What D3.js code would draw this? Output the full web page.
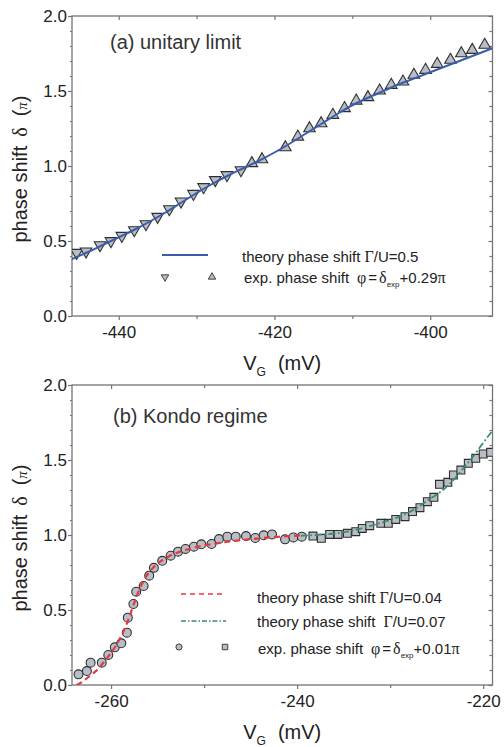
<!DOCTYPE html>
<html>
<head>
<meta charset="utf-8">
<script src="https://cdn.jsdelivr.net/npm/d3@7"></script>
<style>
  body { margin: 0; background: #fff; }
  svg { display: block; font-family: 'Liberation Sans', Arial, sans-serif; }
  .greek { font-family: 'Liberation Serif', 'DejaVu Serif', serif; }
</style>
</head>
<body>
<svg id="chart" width="504" height="747"></svg>
<script>
// ---- panel (a) unitary limit ----
const aXTicks = [-440, -420, -400];
const aXMinor = [-430, -410];
// theory phase shift, Gamma/U = 0.5  [V_G (mV), delta (pi)]
const aTheory = [
  [-446, 0.38], [-444, 0.425], [-442, 0.475], [-440, 0.525], [-438, 0.575],
  [-436, 0.63], [-434, 0.69], [-432, 0.755], [-430, 0.82], [-428, 0.88],
  [-426, 0.935], [-424, 0.985], [-422, 1.035], [-420, 1.09], [-418, 1.15],
  [-416, 1.215], [-414, 1.28], [-412, 1.345], [-410, 1.405], [-408, 1.455],
  [-406, 1.50], [-404, 1.545], [-402, 1.585], [-400, 1.625], [-398, 1.665],
  [-396, 1.705], [-394, 1.745], [-392, 1.785]
];
// experiment, down triangles
const aDown = [
  [-445.4, 0.422], [-444.2, 0.431], [-442.4, 0.473], [-441.0, 0.50],
  [-439.6, 0.535], [-438.0, 0.573], [-436.5, 0.613], [-435.0, 0.662],
  [-433.5, 0.713], [-432.0, 0.764], [-430.4, 0.815], [-429.1, 0.86],
  [-427.6, 0.907], [-426.1, 0.94], [-424.3, 0.973]
];
// experiment, up triangles
const aUp = [
  [-422.9, 1.018], [-421.6, 1.044], [-418.6, 1.124], [-417.0, 1.195],
  [-415.5, 1.251], [-414.0, 1.284], [-412.5, 1.34], [-411.0, 1.385],
  [-409.5, 1.435], [-408.0, 1.458], [-406.5, 1.502], [-405.0, 1.54],
  [-403.5, 1.562], [-402.1, 1.607], [-400.6, 1.64], [-399.1, 1.68],
  [-397.4, 1.707], [-396.0, 1.751], [-394.6, 1.773], [-393.0, 1.807]
];

// ---- panel (b) Kondo regime ----
const bXTicks = [-260, -240, -220];
const bXMinor = [-250, -230];
// theory, Gamma/U = 0.04
const bTheoryA = [
  [-263.7, 0.0], [-263, 0.025], [-262.5, 0.05], [-262, 0.075], [-261.5, 0.10],
  [-261, 0.135], [-260.5, 0.175], [-260, 0.215], [-259.5, 0.26], [-259, 0.315],
  [-258.5, 0.38], [-258, 0.46], [-257.5, 0.55], [-257, 0.63], [-256.5, 0.695],
  [-256, 0.745], [-255.5, 0.78], [-255, 0.81], [-254, 0.85], [-253, 0.88],
  [-252, 0.9], [-251, 0.917], [-250, 0.93], [-248, 0.95], [-246, 0.966],
  [-244, 0.978], [-242, 0.988], [-240, 0.996], [-239.5, 0.998]
];
// theory, Gamma/U = 0.07
const bTheoryB = [
  [-239.6, 0.995], [-238, 1.0], [-236, 1.01], [-234, 1.03], [-232, 1.063],
  [-230, 1.10], [-228, 1.15], [-227, 1.185], [-226, 1.23], [-225, 1.27],
  [-224, 1.318], [-223, 1.38], [-222, 1.455], [-221, 1.53], [-220, 1.615],
  [-219, 1.695]
];
// experiment, circles
const bCircles = [
  [-263.5, 0.071], [-262.6, 0.093], [-262.2, 0.149], [-261.0, 0.149],
  [-260.3, 0.20], [-259.6, 0.251], [-258.9, 0.278], [-258.3, 0.349],
  [-258.2, 0.449], [-257.6, 0.54], [-257.3, 0.622], [-256.5, 0.66],
  [-255.9, 0.729], [-255.4, 0.781], [-254.5, 0.828], [-253.6, 0.862],
  [-252.8, 0.889], [-252.0, 0.907], [-251.1, 0.922], [-250.3, 0.938],
  [-249.2, 0.94], [-248.4, 0.973], [-247.5, 0.989], [-246.6, 0.989],
  [-245.5, 0.993], [-244.5, 0.98], [-243.6, 0.998], [-242.7, 1.004],
  [-241.3, 0.971], [-240.4, 0.984], [-239.5, 0.989]
];
// experiment, squares
const bSquares = [
  [-238.3, 0.993], [-237.4, 0.978], [-236.5, 1.004], [-235.6, 1.004],
  [-234.6, 1.011], [-233.7, 1.022], [-233.0, 1.044], [-232.2, 1.062],
  [-231.0, 1.078], [-230.2, 1.078], [-229.4, 1.104], [-228.4, 1.122],
  [-227.6, 1.156], [-226.8, 1.182], [-226.0, 1.222], [-225.3, 1.251],
  [-224.7, 1.338], [-223.8, 1.351], [-223.2, 1.40], [-222.4, 1.433],
  [-221.6, 1.478], [-220.8, 1.511], [-220.0, 1.54], [-219.2, 1.551]
];

const yTicks = [0, 0.5, 1.0, 1.5, 2.0];
const yMinor = [0.1, 0.2, 0.3, 0.4, 0.6, 0.7, 0.8, 0.9, 1.1, 1.2, 1.3, 1.4, 1.6, 1.7, 1.8, 1.9];

const margin = { left: 72, right: 11.5 };
const plotW = 504 - margin.left - margin.right;
const plotH = 300;
const axisColor = '#747474';
const markFill = '#b9bec6';
const markStroke = '#2e2e2e';

const svg = d3.select('#chart');

function drawPanel(cfg) {
  const g = svg.append('g').attr('transform', `translate(${margin.left},${cfg.top})`);

  const x = d3.scaleLinear().domain(cfg.xDomain).range([0, plotW]);
  const y = d3.scaleLinear().domain([0, 2]).range([plotH, 0]);

  g.append('clipPath')
    .attr('id', cfg.id + '-clip')
    .append('rect')
    .attr('width', plotW)
    .attr('height', plotH);

  function styleAxis(sel) {
    sel.attr('font-family', null).attr('font-size', 17);
    sel.select('.domain').remove();
    sel.selectAll('.tick line').attr('stroke', axisColor).attr('stroke-width', 1.2);
    sel.selectAll('.tick text').attr('fill', '#222');
  }

  // bottom axis
  g.append('g')
    .attr('transform', `translate(0,${plotH})`)
    .call(d3.axisBottom(x).tickValues(cfg.xTicks).tickSize(4).tickPadding(6).tickFormat((d) => String(d)))
    .call(styleAxis);
  g.append('g')
    .attr('transform', `translate(0,${plotH})`)
    .call(d3.axisBottom(x).tickValues(cfg.xMinor).tickSize(3).tickFormat(''))
    .call(styleAxis);
  // top axis, ticks inward
  g.append('g')
    .call(d3.axisTop(x).tickValues(cfg.xTicks).tickSize(-4).tickFormat(''))
    .call(styleAxis);
  g.append('g')
    .call(d3.axisTop(x).tickValues(cfg.xMinor).tickSize(-3).tickFormat(''))
    .call(styleAxis);
  // left axis
  g.append('g')
    .call(d3.axisLeft(y).tickValues(yTicks).tickSize(4).tickPadding(1).tickFormat(d3.format('.1f')))
    .call(styleAxis);
  g.append('g')
    .call(d3.axisLeft(y).tickValues(yMinor).tickSize(2).tickFormat(''))
    .call(styleAxis);
  // right axis, ticks inward
  g.append('g')
    .attr('transform', `translate(${plotW},0)`)
    .call(d3.axisRight(y).tickValues(yTicks).tickSize(-4).tickFormat(''))
    .call(styleAxis);
  g.append('g')
    .attr('transform', `translate(${plotW},0)`)
    .call(d3.axisRight(y).tickValues(yMinor).tickSize(-3).tickFormat(''))
    .call(styleAxis);

  g.append('rect')
    .attr('width', plotW)
    .attr('height', plotH)
    .attr('fill', 'none')
    .attr('stroke', axisColor)
    .attr('stroke-width', 1.3);

  const line = d3
    .line()
    .x((d) => x(d[0]))
    .y((d) => y(d[1]))
    .curve(d3.curveMonotoneX);

  const plot = g.append('g').attr('clip-path', `url(#${cfg.id}-clip)`);

  cfg.marks.forEach((m) => {
    plot
      .selectAll(null)
      .data(m.data)
      .enter()
      .append('path')
      .attr('d', d3.symbol().type(m.type).size(m.size))
      .attr('transform', (d) => `translate(${x(d[0])},${y(d[1])}) rotate(${m.rotate || 0})`)
      .attr('fill', markFill)
      .attr('stroke', markStroke)
      .attr('stroke-width', 1.1);
  });

  // theory curves drawn over the data points
  cfg.lines.forEach((l) => {
    plot
      .append('path')
      .datum(l.data)
      .attr('fill', 'none')
      .attr('stroke', l.color)
      .attr('stroke-width', l.width)
      .attr('stroke-dasharray', l.dash || null)
      .attr('d', line);
  });

  // panel title
  g.append('text')
    .attr('x', cfg.titlePos[0])
    .attr('y', cfg.titlePos[1])
    .attr('font-size', 20)
    .attr('fill', '#333')
    .text(cfg.title);

  // y axis title
  const yl = g
    .append('text')
    .attr('transform', 'rotate(-90)')
    .attr('x', -plotH / 2 - 3)
    .attr('y', -45)
    .attr('text-anchor', 'middle')
    .attr('font-size', 20)
    .attr('fill', '#222');
  yl.append('tspan').text('phase shift');
  yl.append('tspan').attr('class', 'greek').attr('dx', 9).text('δ');
  yl.append('tspan').attr('dx', 11).text('(');
  yl.append('tspan').attr('class', 'greek').attr('font-style', 'italic').attr('font-size', 15).text('π');
  yl.append('tspan').text(')');

  // x axis title
  const xl = g
    .append('text')
    .attr('x', plotW / 2)
    .attr('y', plotH + 54)
    .attr('text-anchor', 'middle')
    .attr('font-size', 20)
    .attr('fill', '#222');
  xl.append('tspan').text('V');
  xl.append('tspan').attr('font-size', 12).attr('dy', 6).text('G');
  xl.append('tspan').attr('dy', -6).attr('dx', 12).text('(mV)');

  return g;
}

function legendText(g, xPos, yPos, parts) {
  const t = g
    .append('text')
    .attr('x', xPos)
    .attr('y', yPos)
    .attr('font-size', 15)
    .attr('fill', '#222');
  parts.forEach((p) => {
    const s = t.append('tspan').text(p.t);
    if (p.greek) s.attr('class', 'greek').attr('font-size', 16);
    if (p.dx) s.attr('dx', p.dx);
    if (p.dy) s.attr('dy', p.dy);
    if (p.size) s.attr('font-size', p.size);
  });
}

function legendMark(g, type, size, xPos, yPos, rotate) {
  g.append('path')
    .attr('d', d3.symbol().type(type).size(size))
    .attr('transform', `translate(${xPos},${yPos}) rotate(${rotate || 0})`)
    .attr('fill', markFill)
    .attr('stroke', markStroke)
    .attr('stroke-width', 0.9);
}

// ---- panel (a) ----
const ga = drawPanel({
  id: 'pa',
  top: 16,
  xDomain: [-446, -392],
  xTicks: aXTicks,
  xMinor: aXMinor,
  title: '(a) unitary limit',
  titlePos: [38, 33],
  lines: [{ data: aTheory, color: '#3a5daa', width: 2 }],
  marks: [
    { data: aDown, type: d3.symbolTriangle, size: 58, rotate: 180 },
    { data: aUp, type: d3.symbolTriangle, size: 58 },
  ],
});

ga.append('line')
  .attr('x1', 90).attr('x2', 136)
  .attr('y1', 239).attr('y2', 239)
  .attr('stroke', '#3a5daa').attr('stroke-width', 2);
legendText(ga, 170, 246, [
  { t: 'theory phase shift ' },
  { t: 'Γ' , greek: true },
  { t: '/U=0.5' },
]);
legendMark(ga, d3.symbolTriangle, 24, 93, 261, 180);
legendMark(ga, d3.symbolTriangle, 24, 140, 261);
legendText(ga, 172, 267, [
  { t: 'exp. phase shift' },
  { t: 'φ', greek: true, dx: 8 },
  { t: '=', dx: 2 },
  { t: 'δ', greek: true, dx: 2 },
  { t: 'exp', size: 8, dy: 4 },
  { t: '+0.29', dy: -4 },
  { t: 'π', greek: true },
]);

// ---- panel (b) ----
const gb = drawPanel({
  id: 'pb',
  top: 385,
  xDomain: [-264.2, -219.0],
  xTicks: bXTicks,
  xMinor: bXMinor,
  title: '(b) Kondo regime',
  titlePos: [41, 38],
  lines: [
    { data: bTheoryA, color: '#e8383d', width: 2.2, dash: '6,4' },
    { data: bTheoryB, color: '#3b8a72', width: 1.8, dash: '7,2.5,1.8,2.5' },
  ],
  marks: [
    { data: bCircles, type: d3.symbolCircle, size: 62 },
    { data: bSquares, type: d3.symbolSquare, size: 62 },
  ],
});

gb.append('line')
  .attr('x1', 109).attr('x2', 154)
  .attr('y1', 209).attr('y2', 209)
  .attr('stroke', '#e8383d').attr('stroke-width', 1.6)
  .attr('stroke-dasharray', '5,4');
legendText(gb, 185, 218, [
  { t: 'theory phase shift ' },
  { t: 'Γ', greek: true },
  { t: '/U=0.04' },
]);
gb.append('line')
  .attr('x1', 109).attr('x2', 154)
  .attr('y1', 236).attr('y2', 236)
  .attr('stroke', '#3b8a72').attr('stroke-width', 1.3)
  .attr('stroke-dasharray', '5,2,1.5,2');
legendText(gb, 185, 242, [
  { t: 'theory phase shift' },
  { t: 'Γ', greek: true, dx: 8 },
  { t: '/U=0.07' },
]);
legendMark(gb, d3.symbolCircle, 30, 107, 262);
legendMark(gb, d3.symbolSquare, 30, 153, 262);
legendText(gb, 186, 269, [
  { t: 'exp. phase shift' },
  { t: 'φ', greek: true, dx: 8 },
  { t: '=', dx: 2 },
  { t: 'δ', greek: true, dx: 2 },
  { t: 'exp', size: 8, dy: 4 },
  { t: '+0.01', dy: -4 },
  { t: 'π', greek: true },
]);
</script>
</body>
</html>
